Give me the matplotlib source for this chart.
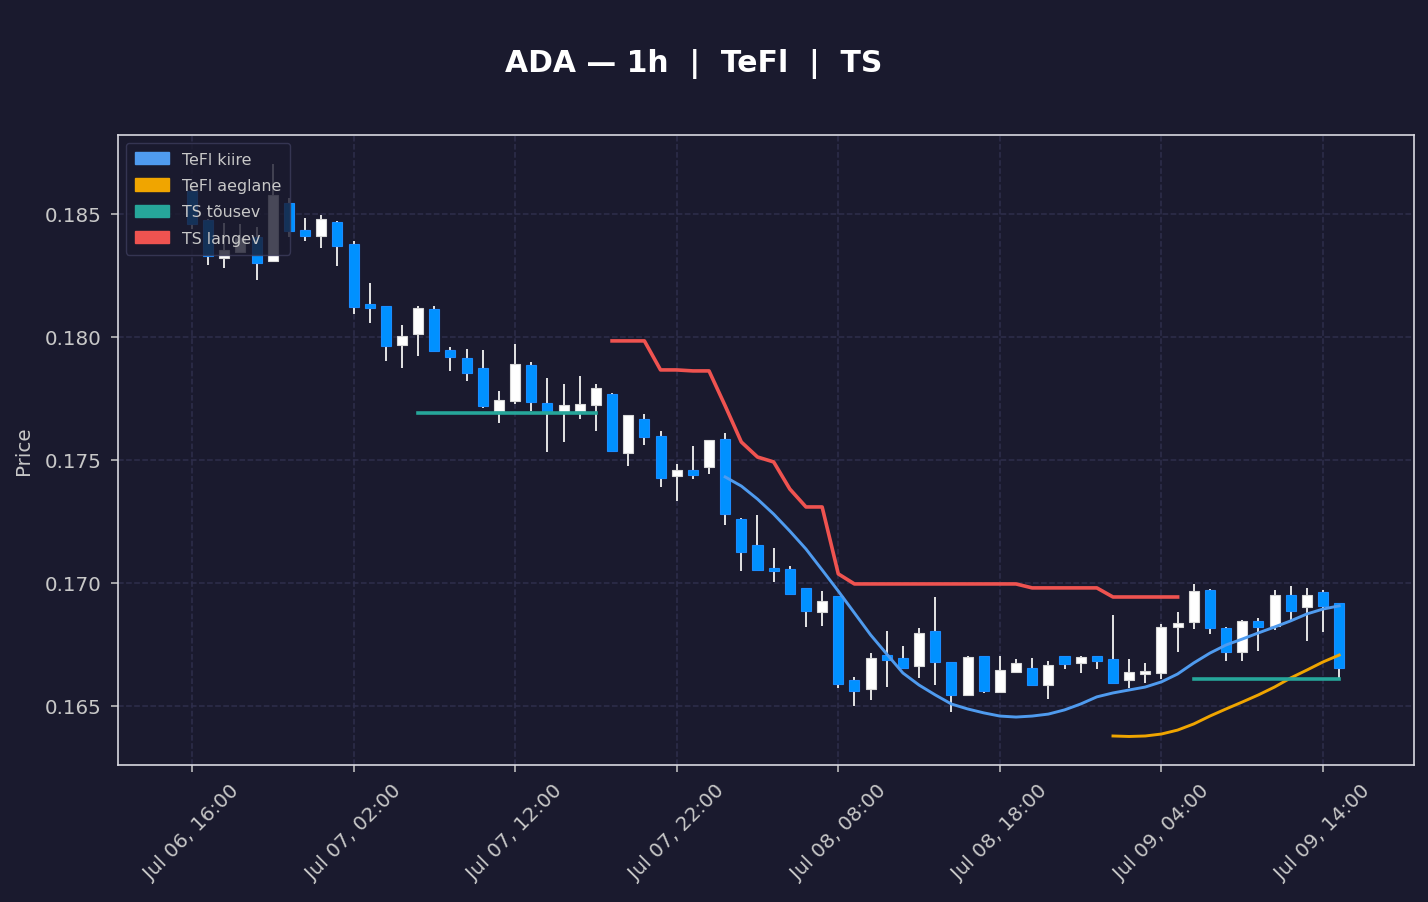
import numpy as np
import pandas as pd
import matplotlib
matplotlib.use("Agg")
import matplotlib.pyplot as plt
import matplotlib.dates as mdates
from matplotlib.patches import Patch
from matplotlib.ticker import FormatStrFormatter

# hourly candles, Jul 06 16:00 -> Jul 09 15:00
times = pd.date_range("2025-07-06 16:00", periods=72, freq="h")

opens = [0.18594, 0.18476, 0.18321, 0.18346, 0.18407, 0.18309, 0.18545, 0.18435, 0.18411, 0.18467,
         0.18378, 0.18134, 0.18126, 0.17967, 0.18012, 0.18114, 0.17947, 0.17915, 0.17874, 0.17699,
         0.17740, 0.17886, 0.17732, 0.17695, 0.17699, 0.17724, 0.17768, 0.17528, 0.17667, 0.17598,
         0.17435, 0.17459, 0.17472, 0.17585, 0.17260, 0.17154, 0.17061, 0.17057, 0.16980, 0.16882,
         0.16947, 0.16606, 0.16569, 0.16707, 0.16695, 0.16663, 0.16805, 0.16679, 0.16545, 0.16703,
         0.16557, 0.16638, 0.16654, 0.16585, 0.16703, 0.16675, 0.16703, 0.16691, 0.16606, 0.16630,
         0.16634, 0.16821, 0.16841, 0.16972, 0.16817, 0.16720, 0.16846, 0.16825, 0.16951, 0.16902,
         0.16963, 0.16919]
highs = [0.18610, 0.18480, 0.18463, 0.18459, 0.18445, 0.18703, 0.18565, 0.18484, 0.18496, 0.18472,
         0.18390, 0.18220, 0.18126, 0.18049, 0.18126, 0.18126, 0.17959, 0.17951, 0.17947, 0.17780,
         0.17972, 0.17898, 0.17833, 0.17809, 0.17841, 0.17809, 0.17772, 0.17683, 0.17687, 0.17618,
         0.17484, 0.17557, 0.17581, 0.17610, 0.17264, 0.17276, 0.17142, 0.17069, 0.16980, 0.16967,
         0.16947, 0.16618, 0.16715, 0.16805, 0.16744, 0.16817, 0.16943, 0.16679, 0.16703, 0.16703,
         0.16703, 0.16691, 0.16695, 0.16683, 0.16703, 0.16703, 0.16703, 0.16870, 0.16691, 0.16675,
         0.16833, 0.16882, 0.16996, 0.16976, 0.16821, 0.16850, 0.16858, 0.16972, 0.16988, 0.16980,
         0.16972, 0.16919]
lows = [0.18440, 0.18293, 0.18280, 0.18346, 0.18232, 0.18305, 0.18407, 0.18390, 0.18362, 0.18289,
        0.18093, 0.18057, 0.17902, 0.17874, 0.17923, 0.17943, 0.17862, 0.17821, 0.17711, 0.17650,
        0.17728, 0.17699, 0.17533, 0.17573, 0.17667, 0.17618, 0.17537, 0.17476, 0.17561, 0.17390,
        0.17333, 0.17423, 0.17443, 0.17236, 0.17049, 0.17049, 0.17004, 0.16955, 0.16821, 0.16825,
        0.16573, 0.16500, 0.16524, 0.16577, 0.16654, 0.16614, 0.16585, 0.16476, 0.16545, 0.16553,
        0.16557, 0.16634, 0.16581, 0.16528, 0.16650, 0.16634, 0.16650, 0.16593, 0.16573, 0.16593,
        0.16610, 0.16720, 0.16813, 0.16793, 0.16683, 0.16683, 0.16724, 0.16809, 0.16846, 0.16764,
        0.16801, 0.16610]
closes = [0.18459, 0.18329, 0.18354, 0.18402, 0.18301, 0.18577, 0.18431, 0.18411, 0.18480, 0.18370,
          0.18122, 0.18118, 0.17963, 0.18004, 0.18118, 0.17943, 0.17919, 0.17854, 0.17720, 0.17744,
          0.17890, 0.17736, 0.17695, 0.17724, 0.17728, 0.17793, 0.17537, 0.17683, 0.17593, 0.17427,
          0.17459, 0.17439, 0.17581, 0.17280, 0.17126, 0.17053, 0.17049, 0.16955, 0.16886, 0.16927,
          0.16589, 0.16561, 0.16695, 0.16687, 0.16654, 0.16797, 0.16679, 0.16545, 0.16699, 0.16561,
          0.16646, 0.16675, 0.16585, 0.16667, 0.16671, 0.16699, 0.16683, 0.16593, 0.16638, 0.16642,
          0.16821, 0.16837, 0.16967, 0.16817, 0.16720, 0.16846, 0.16821, 0.16951, 0.16886, 0.16951,
          0.16907, 0.16654]

# indicator lines (index of first candle + values)
tefl_fast_start = 33
tefl_fast = [0.17431, 0.17394, 0.17341, 0.17280, 0.17211, 0.17138, 0.17053, 0.16967, 0.16878, 0.16789,
             0.16711, 0.16634, 0.16585, 0.16545, 0.16508, 0.16488, 0.16472, 0.16459, 0.16455, 0.16459,
             0.16467, 0.16484, 0.16508, 0.16537, 0.16553, 0.16565, 0.16577, 0.16598, 0.16630, 0.16675,
             0.16715, 0.16748, 0.16772, 0.16797, 0.16821, 0.16846, 0.16874, 0.16894, 0.16907]
tefl_slow_start = 57
tefl_slow = [0.16378, 0.16376, 0.16378, 0.16386, 0.16402, 0.16427, 0.16459, 0.16488, 0.16516, 0.16545,
             0.16577, 0.16614, 0.16646, 0.16679, 0.16707]
ts_up_segments = [(14, 25, 0.17689), (62, 71, 0.16610)]
ts_down_start = 26
ts_down = [0.17984, 0.17984, 0.17984, 0.17866, 0.17866, 0.17862, 0.17862, 0.17720, 0.17573, 0.17512,
           0.17492, 0.17382, 0.17309, 0.17309, 0.17037, 0.16996, 0.16996, 0.16996, 0.16996, 0.16996,
           0.16996, 0.16996, 0.16996, 0.16996, 0.16996, 0.16996, 0.16980, 0.16980, 0.16980, 0.16980,
           0.16980, 0.16943, 0.16943, 0.16943, 0.16943, 0.16943]

BG = "#1a1a2e"
UP = "#ffffff"
DOWN = "#0091ff"
FAST = "#4f9bef"
SLOW = "#f0a500"
TS_UP = "#26a69a"
TS_DOWN = "#ef5350"

fig = plt.figure(figsize=(14.28, 9.03), dpi=100, facecolor=BG)
ax = fig.add_axes([0.0826, 0.1517, 0.9076, 0.6977], facecolor=BG)

x = mdates.date2num(times)
o = np.array(opens)
c = np.array(closes)
up = c >= o
width = 0.62 / 24

ax.vlines(x, lows, highs, color="#e4e4e4", linewidth=1.4, zorder=2)
body_lo = np.minimum(o, c)
body_h = np.maximum(np.abs(c - o), 0.00004)
ax.bar(x[up], body_h[up], width, bottom=body_lo[up], color=UP,
       edgecolor="#d8d8d8", linewidth=0.8, zorder=3)
ax.bar(x[~up], body_h[~up], width, bottom=body_lo[~up], color=DOWN,
       edgecolor="#1a8cff", linewidth=0.8, zorder=3)

ax.plot(x[tefl_fast_start:tefl_fast_start + len(tefl_fast)], tefl_fast,
        color=FAST, linewidth=2.1, zorder=5)
ax.plot(x[tefl_slow_start:tefl_slow_start + len(tefl_slow)], tefl_slow,
        color=SLOW, linewidth=2.1, zorder=5)
for a, b, v in ts_up_segments:
    ax.plot([x[a], x[b]], [v, v], color=TS_UP, linewidth=2.6, zorder=5)
ax.plot(x[ts_down_start:ts_down_start + len(ts_down)], ts_down,
        color=TS_DOWN, linewidth=2.6, zorder=5)

ax.set_xlim(x[0] - 4.58 / 24, x[0] + 75.63 / 24)
ax.set_ylim(0.16260, 0.18821)

tick_times = pd.date_range("2025-07-06 16:00", periods=8, freq="10h")
ax.set_xticks(mdates.date2num(tick_times))
ax.set_xticklabels([t.strftime("%b %d, %H:%M") for t in tick_times], rotation=45)
ax.set_yticks([0.165, 0.170, 0.175, 0.180, 0.185])
ax.yaxis.set_major_formatter(FormatStrFormatter("%.3f"))

ax.tick_params(colors="#c8c8c8", labelsize=14.3, length=5, width=1.1)
ax.tick_params(axis="x", pad=6)
ax.tick_params(axis="y", pad=7)
for s in ax.spines.values():
    s.set_color("#d8d8e0")
    s.set_linewidth(1.2)
ax.grid(True, color="#2e2e4c", linestyle="--", linewidth=1.1)
ax.set_axisbelow(True)
ax.set_ylabel("Price", color="#c8c8c8", fontsize=14.3, labelpad=8)

handles = [Patch(color=FAST, label="TeFl kiire"),
           Patch(color=SLOW, label="TeFl aeglane"),
           Patch(color=TS_UP, label="TS tõusev"),
           Patch(color=TS_DOWN, label="TS langev")]
leg = ax.legend(handles=handles, loc="upper left", fontsize=11.4, facecolor=BG,
                edgecolor="#3c3c5c", framealpha=0.8, labelcolor="#c8c8c8",
                handlelength=2.2, handleheight=0.8, borderpad=0.55,
                labelspacing=0.72, handletextpad=0.8)
leg.set_zorder(10)

fig.text(0.486, 0.929, "ADA — 1h  |  TeFl  |  TS", color="white", fontsize=21.5,
         fontweight="bold", ha="center", va="center")

plt.savefig("out.png", dpi=100, facecolor=BG)
plt.close()
